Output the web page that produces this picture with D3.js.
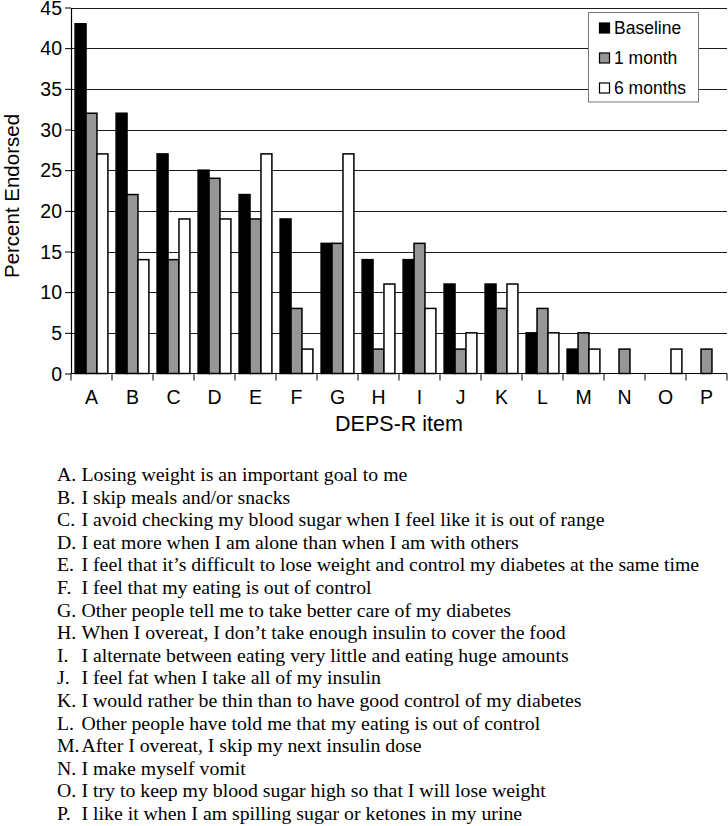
<!DOCTYPE html>
<html>
<head>
<meta charset="utf-8">
<script src="https://cdn.jsdelivr.net/npm/d3@7/dist/d3.min.js"></script>
<style>
html,body{margin:0;padding:0;background:#fff;}
svg{display:block;}
</style>
</head>
<body>
<svg id="chart" width="728" height="826"></svg>
<script>
const categories = ["A","B","C","D","E","F","G","H","I","J","K","L","M","N","O","P"];
const seriesNames = ["Baseline","1 month","6 months"];
const baseline = [43,32,27,25,22,19,16,14,14,11,11,5,3,0,0,0];
const oneMonth = [32,22,14,24,19,8,16,3,16,3,8,8,5,3,0,3];
const sixMonths = [27,14,19,19,27,3,27,11,8,5,11,5,3,0,3,0];
const yTicks = [0,5,10,15,20,25,30,35,40,45];
const itemTexts = [
  "Losing weight is an important goal to me",
  "I skip meals and/or snacks",
  "I avoid checking my blood sugar when I feel like it is out of range",
  "I eat more when I am alone than when I am with others",
  "I feel that it\u2019s difficult to lose weight and control my diabetes at the same time",
  "I feel that my eating is out of control",
  "Other people tell me to take better care of my diabetes",
  "When I overeat, I don\u2019t take enough insulin to cover the food",
  "I alternate between eating very little and eating huge amounts",
  "I feel fat when I take all of my insulin",
  "I would rather be thin than to have good control of my diabetes",
  "Other people have told me that my eating is out of control",
  "After I overeat, I skip my next insulin dose",
  "I make myself vomit",
  "I try to keep my blood sugar high so that I will lose weight",
  "I like it when I am spilling sugar or ketones in my urine"
];

const seriesValues = [baseline, oneMonth, sixMonths];
const colors = ["#000000", "#969696", "#ffffff"];

(function(){
const svg = d3.select("#chart");
const pL = 71, pR = 727, pT = 7.5, pB = 373.5;
const sans = "Liberation Sans, Arial, sans-serif";

const x = d3.scaleBand().domain(categories).range([pL, pR]).paddingInner(0.2).paddingOuter(0.1);
const xs = d3.scaleBand().domain(d3.range(seriesNames.length)).range([0, x.bandwidth()]);
const y = d3.scaleLinear().domain([0, 45]).range([pB, pT]);

// gridlines
svg.append("g").selectAll("line").data(yTicks.filter(d => d > 0)).join("line")
  .attr("x1", pL).attr("x2", pR)
  .attr("y1", d => Math.round(y(d)) + 0.5).attr("y2", d => Math.round(y(d)) + 0.5)
  .attr("stroke", "#1a1a1a").attr("stroke-width", 1);

// bars
const groups = svg.append("g").selectAll("g").data(categories).join("g")
  .attr("transform", d => `translate(${x(d)},0)`);
groups.selectAll("rect").data((c, i) => seriesValues.map((s, k) => ({k, v: s[i]})).filter(d => d.v > 0)).join("rect")
  .attr("x", d => xs(d.k))
  .attr("width", xs.bandwidth())
  .attr("y", d => y(d.v))
  .attr("height", d => y(0) - y(d.v))
  .attr("fill", d => colors[d.k])
  .attr("stroke", "#000").attr("stroke-width", 1.5);

// y axis
const yAxis = svg.append("g").attr("transform", `translate(${pL},0)`)
  .call(d3.axisLeft(y).tickValues(yTicks).tickSize(6).tickPadding(3).tickSizeOuter(0));
yAxis.select(".domain").attr("stroke", "#000").attr("stroke-width", 1.2);
yAxis.selectAll(".tick line").attr("stroke", "#000");
yAxis.selectAll("text").attr("font-family", sans).attr("font-size", 19.5).attr("fill", "#000").attr("dy", "0.34em");

// x axis with boundary ticks
const boundaries = d3.range(categories.length + 1).map(i => pL + i * x.step());
svg.append("line").attr("x1", pL).attr("x2", pR).attr("y1", pB).attr("y2", pB)
  .attr("stroke", "#000").attr("stroke-width", 1.2);
svg.append("g").selectAll("line").data(boundaries).join("line")
  .attr("x1", d => d).attr("x2", d => d).attr("y1", pB).attr("y2", pB + 7)
  .attr("stroke", "#000");
svg.append("g").selectAll("text").data(categories).join("text")
  .attr("x", d => x(d) + x.bandwidth() / 2)
  .attr("y", 403.5)
  .attr("text-anchor", "middle")
  .attr("font-family", sans).attr("font-size", 19.5)
  .text(d => d);

// axis titles
svg.append("text").attr("x", 399).attr("y", 431).attr("text-anchor", "middle")
  .attr("font-family", sans).attr("font-size", 21.5)
  .text("DEPS-R item");
svg.append("text").attr("transform", "translate(18.5,196) rotate(-90)").attr("text-anchor", "middle")
  .attr("font-family", sans).attr("font-size", 20.5)
  .text("Percent Endorsed");

// legend
const lg = svg.append("g");
lg.append("rect").attr("x", 588.5).attr("y", 12.5).attr("width", 110).attr("height", 89.5)
  .attr("fill", "#fff").attr("stroke", "#777").attr("stroke-width", 1);
const li = lg.selectAll("g.item").data(seriesNames).join("g").attr("class", "item")
  .attr("transform", (d, i) => `translate(599,${28 + i * 30})`);
li.append("rect").attr("x", 0.5).attr("y", -5).attr("width", 10).attr("height", 10)
  .attr("fill", (d, i) => colors[i]).attr("stroke", "#000").attr("stroke-width", 1.2);
li.append("text").attr("x", 15).attr("y", 6)
  .attr("font-family", sans).attr("font-size", 17.5)
  .text(d => d);

// item descriptions
const desc = svg.append("g").attr("font-family", "Liberation Serif, Times New Roman, serif").attr("font-size", 19.8);
const rows = desc.selectAll("g").data(itemTexts).join("g")
  .attr("transform", (d, i) => `translate(0,${481 + i * 22.6})`);
rows.append("text").attr("x", 57).text((d, i) => categories[i] + ".");
rows.append("text").attr("x", 81.5).text(d => d);
})();
</script>
</body>
</html>
